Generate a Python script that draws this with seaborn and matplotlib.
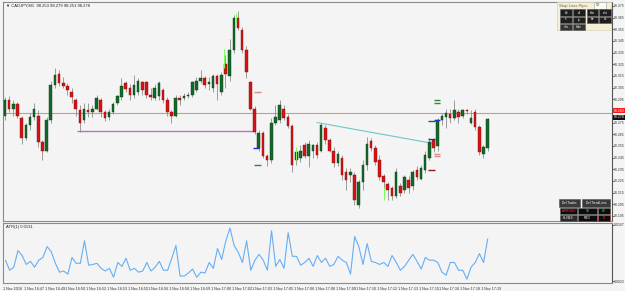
import numpy as np
import pandas as pd
import matplotlib
matplotlib.use("Agg")
import matplotlib.pyplot as plt
from matplotlib.patches import Rectangle
import seaborn as sns

# ---------------- data ----------------
title_text = "\u25bc CADJPY,M1  98.253 98.279 98.251 98.278"
atr_title = "ATR(1) 0.0131"

opens = [98.281, 98.294, 98.287, 98.291, 98.279, 98.262, 98.273, 98.280, 98.281, 98.258,
         98.251, 98.277, 98.307, 98.317, 98.309, 98.306, 98.301, 98.294, 98.286, 98.277,
         98.286, 98.284, 98.287, 98.294, 98.284, 98.280, 98.284, 98.292, 98.297, 98.309,
         98.305, 98.299, 98.301, 98.310, 98.310, 98.299, 98.296, 98.298, 98.303, 98.294,
         98.284, 98.281, 98.296, 98.296, 98.298, 98.299, 98.303, 98.311, 98.313, 98.308,
         98.305, 98.315, 98.301, 98.325, 98.315, 98.337, 98.365, 98.354, 98.337, 98.310,
         98.287, 98.253, 98.266, 98.246, 98.243, 98.275, 98.277, 98.287, 98.280, 98.272,
         98.243, 98.245, 98.256, 98.246, 98.251, 98.256, 98.251, 98.270, 98.260, 98.251,
         98.240, 98.245, 98.233, 98.230, 98.230, 98.204, 98.224, 98.239, 98.259, 98.253,
         98.243, 98.229, 98.222, 98.219, 98.212, 98.221, 98.217, 98.226, 98.221, 98.234,
         98.227, 98.234, 98.245, 98.260, 98.255, 98.277, 98.280, 98.282, 98.279, 98.284,
         98.281, 98.286, 98.275, 98.284, 98.271, 98.248, 98.253]
highs = [98.297, 98.298, 98.294, 98.293, 98.281, 98.275, 98.283, 98.292, 98.286, 98.260,
         98.280, 98.311, 98.322, 98.320, 98.314, 98.309, 98.305, 98.296, 98.290, 98.292,
         98.292, 98.290, 98.299, 98.296, 98.286, 98.287, 98.293, 98.299, 98.313, 98.311,
         98.308, 98.316, 98.313, 98.311, 98.311, 98.305, 98.308, 98.311, 98.305, 98.297,
         98.286, 98.299, 98.299, 98.300, 98.301, 98.311, 98.314, 98.320, 98.315, 98.314,
         98.317, 98.317, 98.318, 98.333, 98.347, 98.367, 98.371, 98.357, 98.341, 98.311,
         98.289, 98.269, 98.268, 98.248, 98.279, 98.290, 98.294, 98.290, 98.282, 98.274,
         98.253, 98.256, 98.258, 98.260, 98.257, 98.258, 98.275, 98.273, 98.262, 98.254,
         98.251, 98.247, 98.236, 98.236, 98.233, 98.226, 98.243, 98.263, 98.262, 98.256,
         98.247, 98.231, 98.224, 98.221, 98.236, 98.223, 98.230, 98.229, 98.234, 98.238,
         98.239, 98.251, 98.262, 98.262, 98.279, 98.283, 98.287, 98.287, 98.294, 98.287,
         98.287, 98.287, 98.286, 98.287, 98.273, 98.256, 98.279]
lows = [98.277, 98.284, 98.281, 98.279, 98.257, 98.260, 98.269, 98.277, 98.254, 98.243,
        98.250, 98.275, 98.305, 98.306, 98.305, 98.299, 98.292, 98.281, 98.267, 98.275,
        98.280, 98.280, 98.286, 98.280, 98.276, 98.277, 98.282, 98.290, 98.294, 98.301,
        98.294, 98.296, 98.299, 98.299, 98.296, 98.294, 98.294, 98.294, 98.292, 98.281,
        98.275, 98.280, 98.290, 98.294, 98.296, 98.297, 98.301, 98.309, 98.305, 98.303,
        98.301, 98.294, 98.299, 98.305, 98.311, 98.335, 98.354, 98.335, 98.313, 98.286,
        98.265, 98.251, 98.245, 98.238, 98.240, 98.273, 98.275, 98.277, 98.270, 98.233,
        98.239, 98.241, 98.245, 98.237, 98.245, 98.245, 98.250, 98.257, 98.250, 98.237,
        98.238, 98.226, 98.217, 98.224, 98.204, 98.202, 98.217, 98.234, 98.251, 98.239,
        98.226, 98.217, 98.209, 98.209, 98.210, 98.212, 98.215, 98.215, 98.217, 98.226,
        98.226, 98.232, 98.243, 98.250, 98.251, 98.273, 98.270, 98.275, 98.277, 98.275,
        98.279, 98.282, 98.274, 98.269, 98.247, 98.245, 98.251]
closes = [98.294, 98.287, 98.291, 98.281, 98.262, 98.273, 98.280, 98.287, 98.258, 98.251,
          98.277, 98.307, 98.316, 98.309, 98.306, 98.303, 98.297, 98.287, 98.275, 98.287,
          98.284, 98.287, 98.296, 98.284, 98.279, 98.284, 98.291, 98.298, 98.306, 98.304,
          98.299, 98.307, 98.311, 98.303, 98.299, 98.297, 98.305, 98.309, 98.294, 98.284,
          98.281, 98.296, 98.294, 98.298, 98.299, 98.310, 98.311, 98.313, 98.307, 98.310,
          98.315, 98.308, 98.316, 98.317, 98.337, 98.365, 98.356, 98.337, 98.318, 98.287,
          98.267, 98.266, 98.246, 98.243, 98.275, 98.280, 98.290, 98.279, 98.272, 98.239,
          98.250, 98.251, 98.246, 98.257, 98.256, 98.247, 98.273, 98.260, 98.251, 98.240,
          98.248, 98.230, 98.226, 98.233, 98.209, 98.224, 98.239, 98.257, 98.253, 98.241,
          98.228, 98.224, 98.217, 98.212, 98.233, 98.215, 98.228, 98.219, 98.233, 98.228,
          98.236, 98.247, 98.258, 98.253, 98.277, 98.281, 98.283, 98.279, 98.286, 98.280,
          98.286, 98.285, 98.279, 98.271, 98.250, 98.254, 98.278]
atr_values = [0.0076, 0.0050, 0.0058, 0.0101, 0.0088, 0.0065, 0.0073, 0.0058, 0.0076, 0.0083,
              0.0111, 0.0098, 0.0068, 0.0045, 0.0048, 0.0040, 0.0083, 0.0068, 0.0068, 0.0126,
              0.0063, 0.0065, 0.0068, 0.0055, 0.0048, 0.0055, 0.0032, 0.0070, 0.0060, 0.0081,
              0.0050, 0.0055, 0.0045, 0.0048, 0.0070, 0.0048, 0.0058, 0.0073, 0.0050, 0.0050,
              0.0081, 0.0114, 0.0035, 0.0035, 0.0043, 0.0053, 0.0032, 0.0045, 0.0043, 0.0070,
              0.0055, 0.0106, 0.0078, 0.0126, 0.0159, 0.0114, 0.0096, 0.0070, 0.0126, 0.0050,
              0.0076, 0.0091, 0.0076, 0.0050, 0.0152, 0.0060, 0.0078, 0.0055, 0.0147, 0.0086,
              0.0086, 0.0063, 0.0070, 0.0081, 0.0060, 0.0088, 0.0070, 0.0081, 0.0060, 0.0065,
              0.0086, 0.0076, 0.0070, 0.0040, 0.0137, 0.0111, 0.0065, 0.0119, 0.0073, 0.0070,
              0.0065, 0.0070, 0.0060, 0.0088, 0.0070, 0.0050, 0.0060, 0.0076, 0.0091, 0.0073,
              0.0053, 0.0083, 0.0076, 0.0076, 0.0070, 0.0045, 0.0037, 0.0070, 0.0070, 0.0050,
              0.0050, 0.0027, 0.0058, 0.0070, 0.0093, 0.0070, 0.0131]
time_labels = ["1 Nov 2016", "1 Nov 16:47", "1 Nov 16:49", "1 Nov 16:50", "1 Nov 16:52",
               "1 Nov 16:53", "1 Nov 16:55", "1 Nov 16:56", "1 Nov 16:58", "1 Nov 16:59",
               "1 Nov 17:00", "1 Nov 17:02", "1 Nov 17:03", "1 Nov 17:05", "1 Nov 17:06",
               "1 Nov 17:08", "1 Nov 17:09", "1 Nov 17:10", "1 Nov 17:12", "1 Nov 17:13",
               "1 Nov 17:15", "1 Nov 17:16", "1 Nov 17:18", "1 Nov 17:19"]
price_ticks = [98.375, 98.365, 98.355, 98.345, 98.335, 98.325, 98.315, 98.305, 98.295,
               98.285, 98.275, 98.265, 98.255, 98.245, 98.235, 98.225, 98.215, 98.205, 98.195]
atr_ticks = [0.0167, 0.0022]

hline_price = 98.283          # red horizontal line
support_price = 98.268        # magenta segment
support_from, support_to = 17.3, 59.9   # candle indices
trend_idx = [75, 103]
trend_price = [98.275, 98.257]
# trade marks: (candle index, price, kind)
trade_marks = [(60.7, 98.301, "sl"), (60.7, 98.239, "tp"), (60.3, 98.253, "entry"),
               (103.8, 98.294, "tp"), (103.8, 98.292, "tp"), (103.8, 98.248, "sl"),
               (103.8, 98.246, "sl"), (102.5, 98.261, "entry"), (103.8, 98.277, "entry"),
               (102.5, 98.276, "tp2"), (102.5, 98.234, "sl2")]
lime_ticks = [(52.6, 98.322, 98.338), (55.5, 98.360, 98.369), (70.0, 98.243, 98.254),
              (91.2, 98.209, 98.220), (39.3, 98.281, 98.286)]

# ---------------- layout ----------------
W, H = 625, 291
sns.set_theme(style="white")
NARROW = ["Liberation Sans Narrow", "Liberation Sans", "DejaVu Sans"]
plt.rcParams["font.family"] = NARROW
BG = "#f4f4f4"
fig = plt.figure(figsize=(W / 100, H / 100), dpi=100, facecolor=BG)


def fx(x):
    return x / W


def fy(y):
    return 1 - y / H


ax = fig.add_axes([fx(3), fy(221), fx(612) - fx(3), fy(2) - fy(221)], facecolor=BG)
ax2 = fig.add_axes([fx(3), fy(283), fx(612) - fx(3), fy(223) - fy(283)], facecolor=BG)

n = len(opens)
df = pd.DataFrame({"i": np.arange(n), "o": opens, "h": highs, "l": lows, "c": closes})
up = df.c >= df.o

ax.vlines(df.i, df.l, df.h, color="#8c8c8c", lw=0.6, zorder=2)
ax.bar(df.i[up], (df.c - df.o)[up].clip(lower=0.0006), bottom=df.o[up], width=0.62,
       color="#14682a", edgecolor="#0a3d16", linewidth=0.3, zorder=3)
ax.bar(df.i[~up], (df.o - df.c)[~up].clip(lower=0.0006), bottom=df.c[~up], width=0.62,
       color="#d41414", edgecolor="#8a0a0a", linewidth=0.3, zorder=3)

ax.axhline(hline_price, color="#e78c8c", lw=0.8, zorder=1)
ax.hlines(support_price, support_from, support_to, color="#c96ac9", lw=1.0, zorder=1)
ax.plot(trend_idx, trend_price, color="#6cc7c7", lw=0.8, zorder=1)

mark_colors = {"sl": "#d98a8a", "tp": "#2f8a3a", "entry": "#1a2fd6",
               "tp2": "#1d6b2a", "sl2": "#8a1a1a"}
for ci, p, kind in trade_marks:
    ax.hlines(p, ci - 0.75, ci + 0.75, color=mark_colors[kind], lw=1.0, zorder=4)
for ci, p0, p1 in lime_ticks:
    ax.vlines(ci, p0, p1, color="#7dff5a", lw=0.7, zorder=4)

ax.set_xlim(-0.48, 145.9)
ax.set_ylim(98.1906, 98.3783)
ax.yaxis.tick_right()
ax.set_yticks(price_ticks)
# the 98.285 label sits under the red line-price box, as in the terminal
ax.set_yticklabels(["" if abs(t - hline_price) < 0.004 else f"{t:.3f}" for t in price_ticks])
ax.tick_params(axis="y", labelsize=2.5, length=1.2, width=0.5, pad=0.4, colors="#333333")
ax.set_xticks([])
for s in ax.spines.values():
    s.set_color("#8a8a8a")
    s.set_linewidth(0.8)
ax.spines["right"].set_color("#555555")

# ATR panel
atr_df = pd.DataFrame({"i": np.arange(n), "atr": atr_values})
sns.lineplot(data=atr_df, x="i", y="atr", ax=ax2, color="#66aef5", lw=0.8)
ax2.set_xlim(-0.48, 145.9)
ax2.set_ylim(0.00171, 0.0172)
ax2.yaxis.tick_right()
ax2.set_yticks(atr_ticks)
ax2.set_yticklabels([f"{t:.4f}" for t in atr_ticks])
ax2.tick_params(axis="y", labelsize=2.5, length=1.2, width=0.5, pad=0.4, colors="#333333")
ax2.set_xticks(np.arange(0, n, 5)[:len(time_labels)] - 0.6)
ax2.set_xticklabels(time_labels, ha="left")
ax2.tick_params(axis="x", labelsize=2.7, length=2, width=0.5, pad=0.6, colors="#333333")
ax2.set_xlabel("")
ax2.set_ylabel("")
for s in ax2.spines.values():
    s.set_color("#8a8a8a")
    s.set_linewidth(0.8)
ax2.spines["right"].set_color("#555555")

# titles
fig.text(fx(6), fy(6), title_text, fontsize=3.0, color="#222222", va="center")
fig.text(fx(6), fy(227), atr_title, fontsize=3.0, color="#222222", va="center")

# price labels on right
fig.text(fx(613.5), fy(110.5), f"{hline_price:.3f}", fontsize=2.5, color="white", va="center",
         bbox=dict(boxstyle="square,pad=0.15", fc="#ff1a1a", ec="none"))
fig.text(fx(613.5), fy(117.5), f"{closes[-1]:.3f}", fontsize=2.5, color="white", va="center",
         bbox=dict(boxstyle="square,pad=0.15", fc="#111111", ec="none"))


def rect(x0, y0, x1, y1, fc, ec="none", lw=0.5):
    fig.patches.append(Rectangle((fx(x0), fy(y1)), fx(x1) - fx(x0), fy(y0) - fy(y1),
                                 transform=fig.transFigure, fc=fc, ec=ec, lw=lw, zorder=5))


def btn(x0, y0, x1, y1, label, tc="white", fc="#1e1e1e", ec="#555555"):
    rect(x0, y0, x1, y1, fc, ec, 0.4)
    fig.text(fx((x0 + x1) / 2), fy((y0 + y1) / 2), label, fontsize=2.2, color=tc,
             ha="center", va="center", zorder=6)


# stop-loss panel (top right)
rect(557, 2, 611, 30, "#f3efd8", "#d8d2b0", 0.5)
fig.text(fx(559), fy(5.5), "Stop Loss Pips:", fontsize=3.0, color="#666666", va="center", zorder=6)
rect(594, 2.5, 606, 8.5, "#fbfbf5", "#9a9a9a", 0.4)
fig.text(fx(596), fy(5.5), "50", fontsize=2.8, color="#444444", va="center", zorder=6)
for (x0, x1), lab in zip([(560, 572), (573, 585), (587, 598), (599, 611)], ["b/l", "s/l", "b/st", "s/st"]):
    btn(x0, 9.5, x1, 15.5, lab)
for (x0, x1), lab in zip([(560, 572), (573, 585), (587, 598), (599, 611)], ["sl", "tp", "be", "tsl"]):
    btn(x0, 16.5, x1, 22.5, lab)
for (x0, x1), lab in zip([(560, 572), (573, 585)], ["info", "hide"]):
    btn(x0, 23.5, x1, 29.5, lab, fc="#333333")

# object buttons (bottom right)
btn(559, 199, 580, 207, "Del Trades", fc="#3a3a3a")
btn(582, 199, 610, 207, "Del TrendLines", fc="#3a3a3a")
btn(560, 208, 577, 213.5, "ARROWS", tc="#ff3030", fc="#0c0c0c")
btn(578, 208, 597, 213.5, "TB", tc="#30d0d0", fc="#0c0c0c")
btn(598, 208, 610, 213.5, "BE", tc="#30d050", fc="#0c0c0c")
btn(560, 214.5, 577, 221, "HLINES", fc="#2a2a2a")
btn(578, 214.5, 597, 221, "FIBO", fc="#0c0c0c")
btn(598, 214.5, 610, 221, "LT", tc="#ff3030", fc="#0c0c0c", ec="#c02020")

fig.savefig("out.png", dpi=100, facecolor=BG)
